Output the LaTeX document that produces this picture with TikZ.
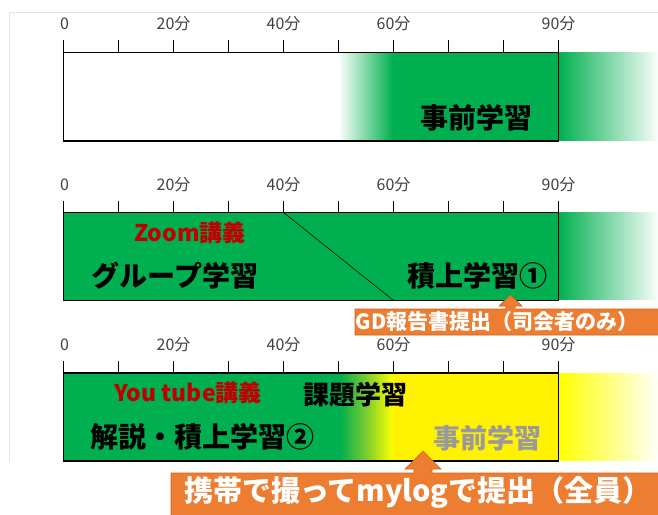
\documentclass[tikz,border=0pt]{standalone}
\usepackage{fontspec}
\setmainfont{Noto Sans CJK JP}
\definecolor{ogreen}{HTML}{00B050}
\definecolor{olime}{HTML}{7ACC2E}
\definecolor{oorange}{HTML}{ED7D31}
\definecolor{oorangedk}{HTML}{C8641E}
\definecolor{dred}{HTML}{C00000}
\definecolor{axisgray}{HTML}{404040}
\definecolor{framegray}{HTML}{E4E4E4}
\definecolor{txtgray}{HTML}{9A9A9A}
\tikzset{
  axislabel/.style={inner sep=0pt, anchor=center, text=axisgray, font=\fontsize{16}{18}\selectfont},
  tickline/.style={line width=1.1pt, black},
  chartbox/.style={line width=1.2pt, black},
  bigtext/.style={inner sep=0pt, anchor=center, font=\bfseries\fontsize{28}{32}\selectfont},
  redtext/.style={inner sep=0pt, anchor=center, text=dred, font=\bfseries\fontsize{23}{26}\selectfont},
  callout/.style={fill=oorange, draw=oorangedk, line width=0.6pt},
  callouttext/.style={inner sep=0pt, anchor=center, text=white, font=\bfseries},
}
\begin{document}
\begin{tikzpicture}[x=1pt,y=-1pt]
\useasboundingbox (0,0) rectangle (658,514);
% faint frame
\draw[framegray, line width=0.8pt] (9.5,462) -- (9.5,12.5) -- (660,12.5);

% ---------- chart 1 ----------
\fill[white] (63.5,52.5) rectangle (338,141);
\shade[left color=white, right color=ogreen] (338,52.5) rectangle (393,141);
\fill[ogreen] (393,52.5) rectangle (558.5,141);
\shade[left color=ogreen, right color=white] (558.5,52.5) rectangle (660,140);
\draw[chartbox] (63.5,52.5) rectangle (558.5,141);
\foreach \i in {0,...,9} {\draw[tickline] (63.5+55*\i,40) -- (63.5+55*\i,52.5);}
\node[axislabel] (a0) at (64.5,24) {0};
\node[axislabel] (a20) at (173.5,24) {20分};
\node[axislabel] (a40) at (283.5,24) {40分};
\node[axislabel] (a60) at (393.5,24) {60分};
\node[axislabel] (a90) at (558.5,24) {90分};
\node[bigtext] (t1) at (476,118) {事前学習};

% ---------- chart 2 ----------
\fill[ogreen] (63.5,212.5) rectangle (558.5,300.5);
\shade[left color=ogreen, right color=white] (558.5,212.5) rectangle (660,299.5);
\draw[chartbox] (63.5,212.5) rectangle (558.5,300.5);
\coordinate (d1) at (283.5,212.5);
\coordinate (d2) at (393.5,300.5);
\draw[line width=0.6pt, black] (d1) -- (d2);
\foreach \i in {0,...,9} {\draw[tickline] (63.5+55*\i,200.5) -- (63.5+55*\i,212.5);}
\node[axislabel] (b0) at (64.5,185) {0};
\node[axislabel] (b20) at (173.5,185) {20分};
\node[axislabel] (b40) at (283.5,185) {40分};
\node[axislabel] (b60) at (393.5,185) {60分};
\node[axislabel] (b90) at (558.5,185) {90分};
\node[redtext] (z1) at (190,233) {Zoom講義};
\node[bigtext] (g1) at (175,276) {グループ学習};
\node[bigtext] (s1) at (477,276) {積上学習①};

% ---------- chart 3 ----------
\fill[ogreen] (63.5,373) rectangle (340,461);
\shade[left color=ogreen, right color=olime] (340,373) rectangle (366,461);
\shade[left color=olime, right color=yellow] (366,373) rectangle (393,461);
\fill[yellow] (393,373) rectangle (558.5,461);
\shade[left color=yellow, right color=white] (558.5,373) rectangle (660,460);
\draw[chartbox] (63.5,373) rectangle (558.5,461);
\foreach \i in {0,...,9} {\draw[tickline] (63.5+55*\i,361) -- (63.5+55*\i,373);}
\node[axislabel] (c0) at (64.5,345) {0};
\node[axislabel] (c20) at (173.5,345) {20分};
\node[axislabel] (c40) at (283.5,345) {40分};
\node[axislabel] (c60) at (393.5,345) {60分};
\node[axislabel] (c90) at (558.5,345) {90分};
\node[redtext] (y1) at (188,393) {You tube講義};
\node[bigtext, font=\bfseries\fontsize{26}{30}\selectfont] (k1) at (355,395) {課題学習};
\node[bigtext] (e1) at (202,437) {解説・積上学習②};
\node[bigtext, text=txtgray, font=\bfseries\fontsize{27}{30}\selectfont] (j1) at (487,438) {事前学習};

% ---------- callout 1 ----------
\draw[callout] (355,309) -- (506,309) -- (506,306) -- (499,306) -- (510.5,295) -- (522,306) -- (515,306) -- (515,309) -- (662,309) -- (662,335) -- (355,335) -- cycle;
\node[callouttext, font=\bfseries\fontsize{21}{24}\selectfont] (m1) at (497,322) {GD報告書提出（司会者のみ）};

% ---------- callout 2 ----------
\draw[callout] (171,473) -- (414,473) -- (414,469) -- (405,469) -- (423,451) -- (441,469) -- (432,469) -- (432,473) -- (662,473) -- (662,518) -- (171,518) -- cycle;
\node[callouttext, font=\bfseries\fontsize{29}{32}\selectfont] (m2) at (418,492) {携帯で撮ってmylogで提出（全員）};
\end{tikzpicture}
\end{document}
